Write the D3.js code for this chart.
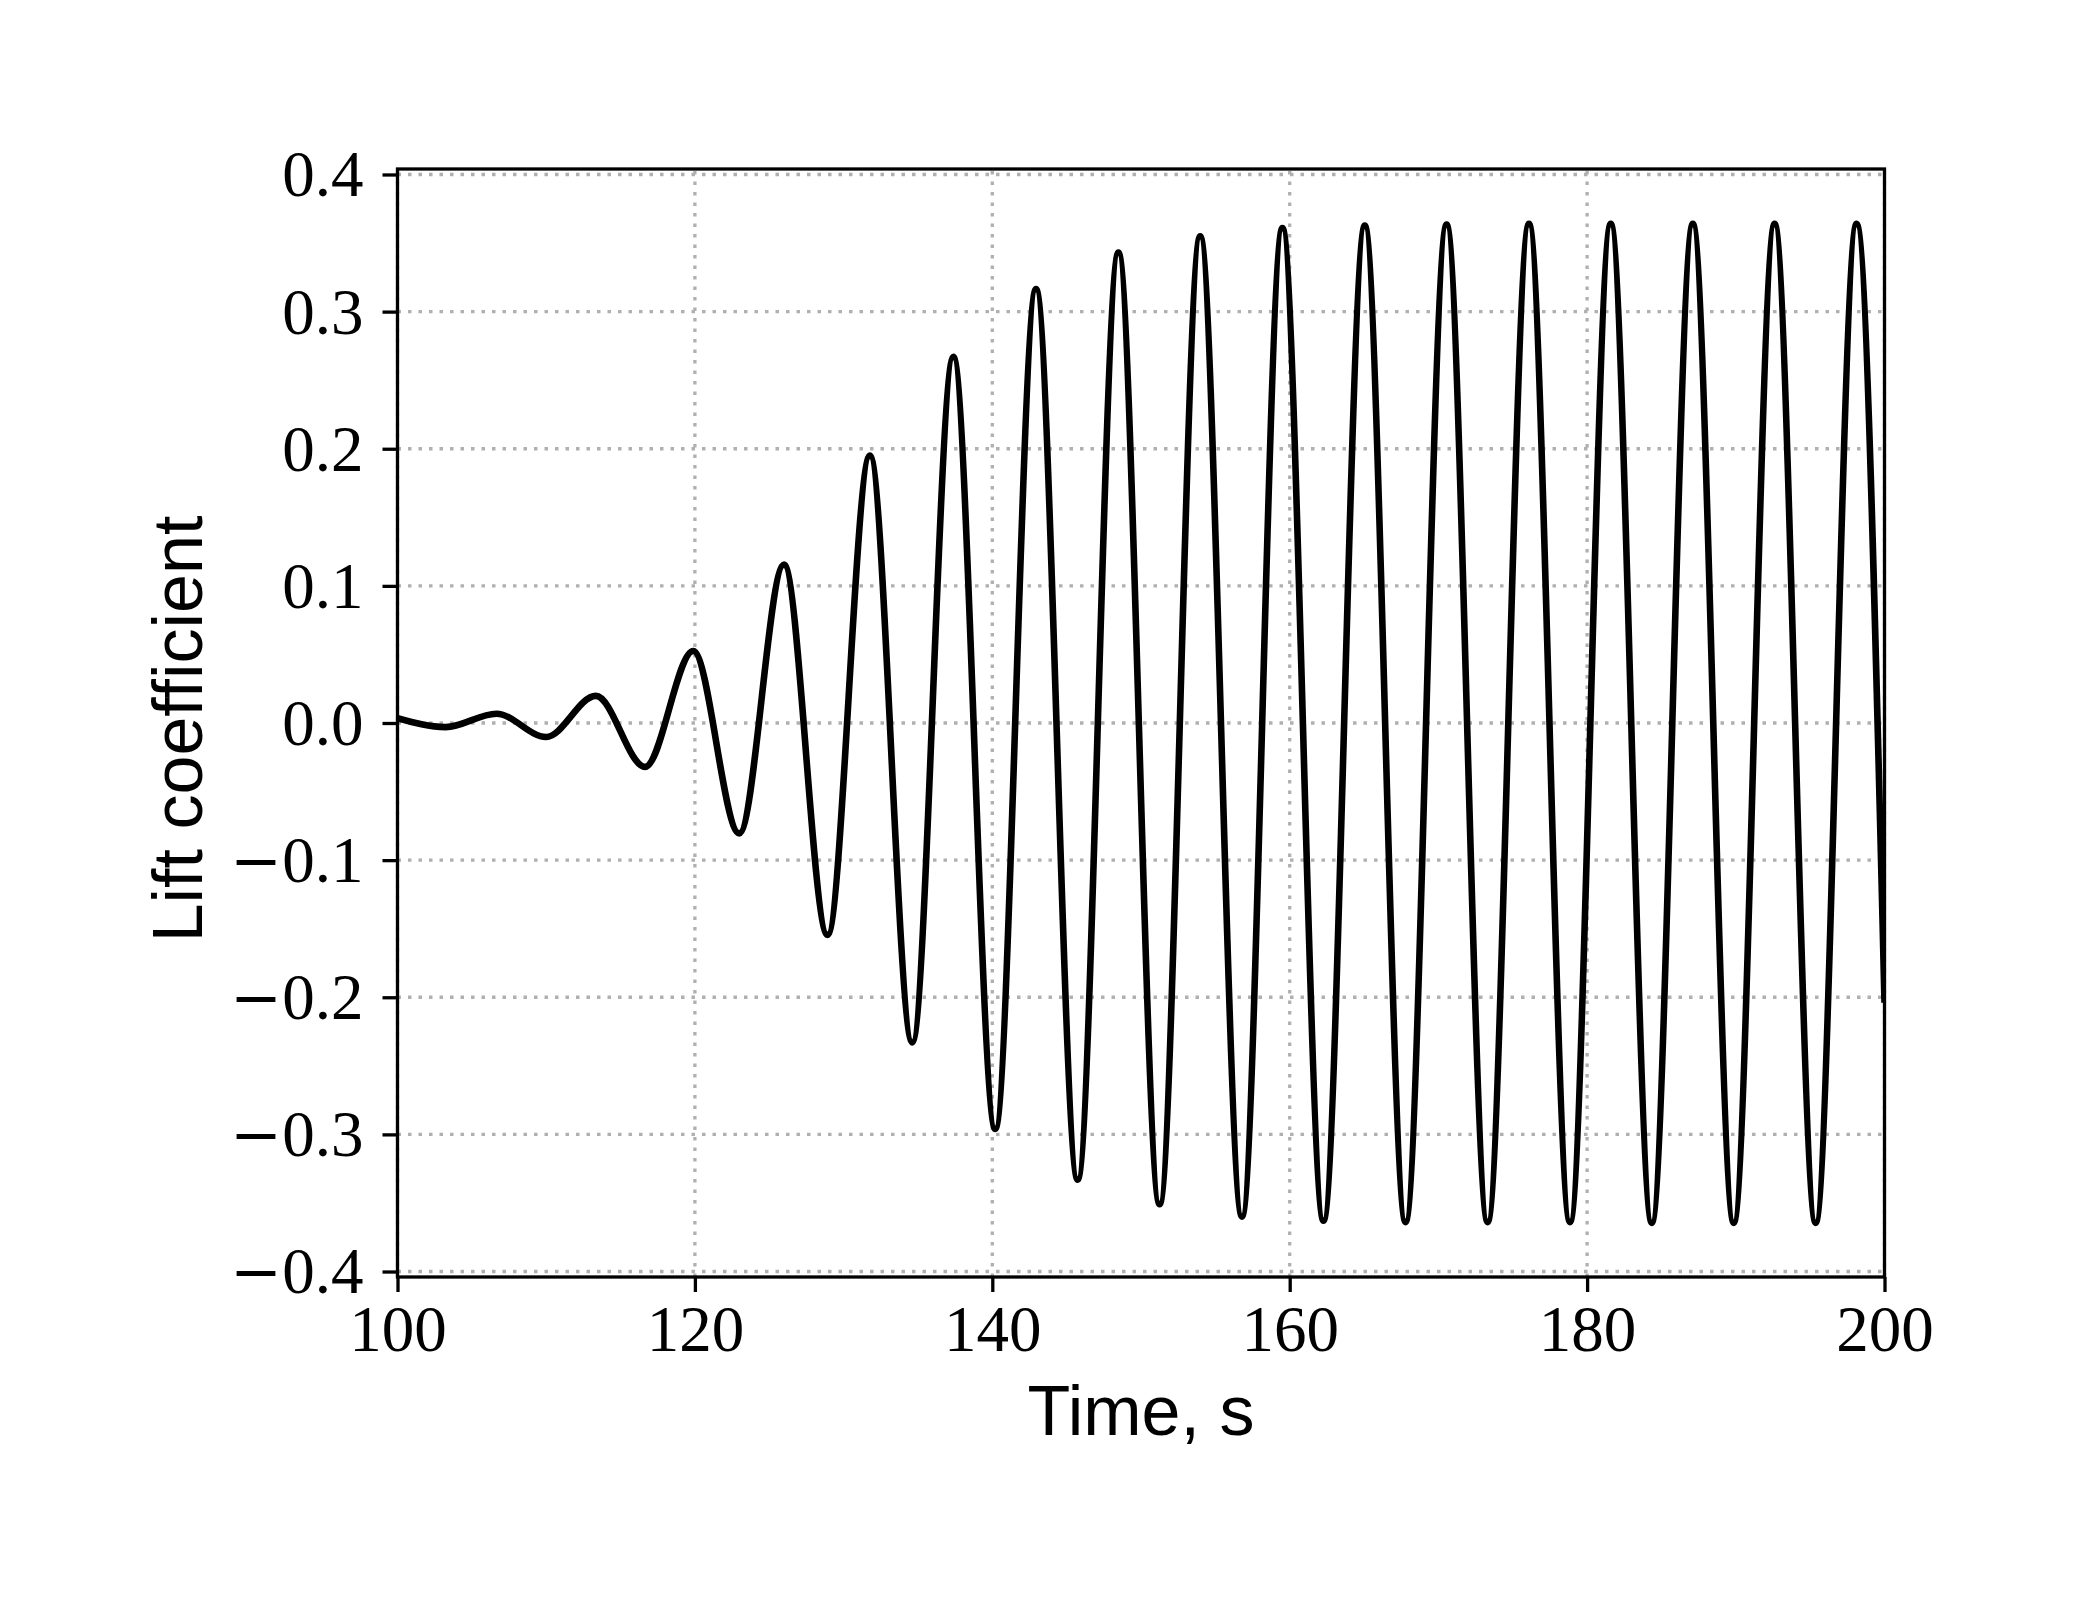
<!DOCTYPE html>
<html>
<head>
<meta charset="utf-8">
<script src="https://cdn.jsdelivr.net/npm/d3@7"></script>
<style>
  body { margin: 0; background: #fff; }
</style>
</head>
<body>
<div id="chart"></div>
<script>
// Lift coefficient time history: local extrema
const times = [100, 103.24, 106.66, 109.99, 113.34, 116.65, 119.89, 122.98, 125.99, 128.92,
  131.77, 134.62, 137.38, 140.20, 142.94, 145.74, 148.48, 151.25, 153.98, 156.79,
  159.51, 162.27, 165.05, 167.79, 170.55, 173.31, 176.09, 178.85, 181.59, 184.35,
  187.11, 189.86, 192.61, 195.37, 198.12, 200];
const lift = [0.0035, -0.003, 0.0068, -0.0102, 0.0198, -0.032, 0.0525, -0.0805, 0.1155, -0.1545,
  0.195, -0.233, 0.267, -0.296, 0.3165, -0.333, 0.343, -0.351, 0.355, -0.360,
  0.361, -0.363, 0.3627, -0.364, 0.3635, -0.364, 0.364, -0.364, 0.364, -0.3645,
  0.364, -0.3645, 0.364, -0.3645, 0.364, -0.204];

const xTicks = [100, 120, 140, 160, 180, 200];
const yTicks = [-0.4, -0.3, -0.2, -0.1, 0.0, 0.1, 0.2, 0.3, 0.4];

const width = 2083;
const height = 1599;
const margin = { top: 169, right: 198.5, bottom: 322, left: 397.5 };

const svg = d3.select("#chart")
  .append("svg")
  .attr("width", width)
  .attr("height", height)
  .attr("viewBox", [0, 0, width, height]);

svg.append("rect")
  .attr("width", width)
  .attr("height", height)
  .attr("fill", "#fff");

const x = d3.scaleLinear()
  .domain([100, 200])
  .range([margin.left, width - margin.right]);

const y = d3.scaleLinear()
  .domain([-0.404, 0.404])
  .range([height - margin.bottom, margin.top]);

const tickFont = "'Liberation Serif', 'Times New Roman', serif";
const labelFont = "'Liberation Sans', Arial, sans-serif";

// grid (dotted, under the data)
const grid = svg.append("g")
  .attr("stroke", "#b0b0b0")
  .attr("stroke-width", 3.3)
  .attr("stroke-dasharray", "3.5,7");

grid.selectAll("line.gx")
  .data(xTicks)
  .join("line")
  .attr("class", "gx")
  .attr("x1", d => x(d))
  .attr("x2", d => x(d))
  .attr("y1", y.range()[0])
  .attr("y2", y.range()[1]);

grid.selectAll("line.gy")
  .data(yTicks)
  .join("line")
  .attr("class", "gy")
  .attr("x1", x.range()[0])
  .attr("x2", x.range()[1])
  .attr("y1", d => y(d))
  .attr("y2", d => y(d));

// clip to the axes box
svg.append("clipPath")
  .attr("id", "plot-clip")
  .append("rect")
  .attr("x", x.range()[0])
  .attr("y", y.range()[1])
  .attr("width", x.range()[1] - x.range()[0])
  .attr("height", y.range()[0] - y.range()[1]);

const points = times.map((t, i) => [t, lift[i]]);

const line = d3.line()
  .x(d => x(d[0]))
  .y(d => y(d[1]))
  .curve(d3.curveMonotoneX);

svg.append("path")
  .datum(points)
  .attr("clip-path", "url(#plot-clip)")
  .attr("fill", "none")
  .attr("stroke", "#000")
  .attr("stroke-width", 6.6)
  .attr("stroke-linejoin", "round")
  .attr("d", line);

// axes
const fmt = d3.format(".1f");

const xAxis = svg.append("g")
  .attr("transform", `translate(0, ${y.range()[0]})`)
  .call(d3.axisBottom(x).tickValues(xTicks).tickSize(15).tickPadding(16).tickFormat(d3.format("d")));

const yAxis = svg.append("g")
  .attr("transform", `translate(${x.range()[0]}, 0)`)
  .call(d3.axisLeft(y).tickValues(yTicks).tickSize(15).tickPadding(19).tickFormat(d => fmt(d)));

[xAxis, yAxis].forEach(ax => {
  ax.select(".domain").remove();
  ax.selectAll(".tick line").attr("stroke", "#000").attr("stroke-width", 3.3);
  ax.selectAll(".tick text")
    .attr("fill", "#000")
    .attr("font-family", tickFont)
    .attr("font-size", 65);
});

xAxis.selectAll(".tick text").attr("dy", "0.66em");
yAxis.selectAll(".tick text").attr("dy", "0.33em");

// wider TeX-like minus sign
yAxis.selectAll(".tick text").each(function() {
  const t = d3.select(this);
  const s = t.text();
  if (s.startsWith("\u2212")) {
    t.text(null);
    t.append("tspan").attr("font-family", "'DejaVu Serif', serif").attr("font-size", 62).text("\u2212");
    t.append("tspan").text(s.slice(1));
  }
});

// spines
svg.append("rect")
  .attr("x", x.range()[0])
  .attr("y", y.range()[1])
  .attr("width", x.range()[1] - x.range()[0])
  .attr("height", y.range()[0] - y.range()[1])
  .attr("fill", "none")
  .attr("stroke", "#000")
  .attr("stroke-width", 3.3);

// axis labels
svg.append("text")
  .attr("x", (x.range()[0] + x.range()[1]) / 2)
  .attr("y", 1435)
  .attr("text-anchor", "middle")
  .attr("font-family", labelFont)
  .attr("font-size", 70)
  .attr("fill", "#000")
  .text("Time, s");

svg.append("text")
  .attr("transform", `translate(202, 729) rotate(-90)`)
  .attr("text-anchor", "middle")
  .attr("font-family", labelFont)
  .attr("font-size", 70)
  .attr("fill", "#000")
  .text("Lift coefficient");
</script>
</body>
</html>
